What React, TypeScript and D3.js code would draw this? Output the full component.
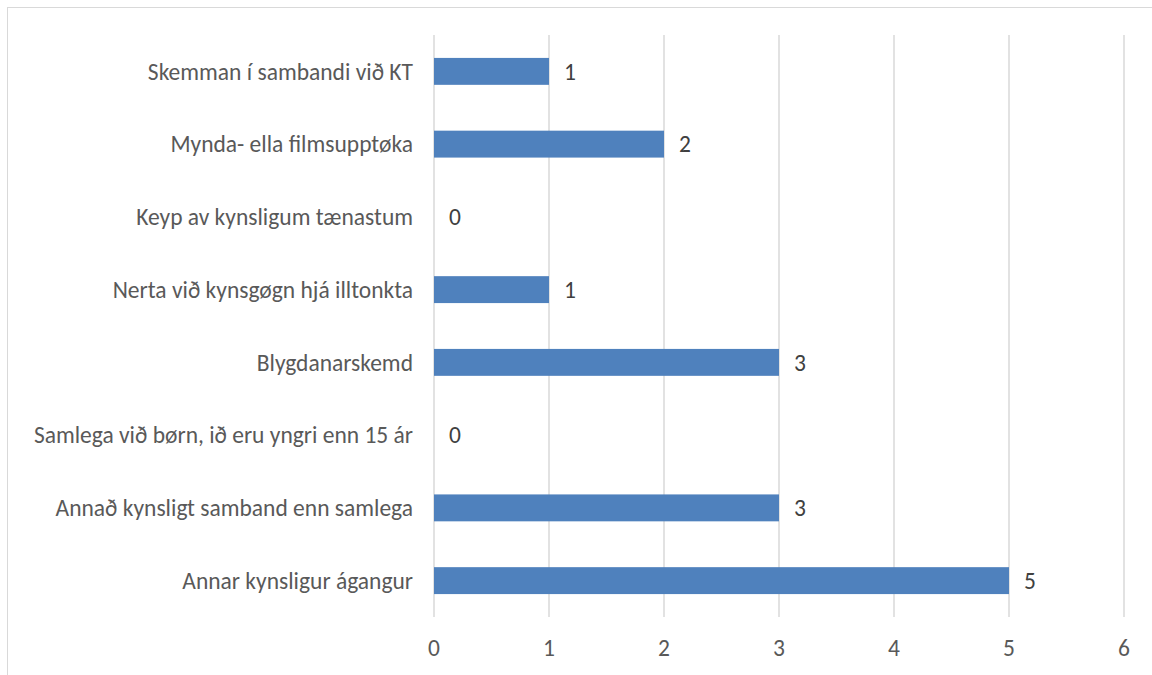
import React from "react";
import * as d3 from "d3";

const width = 1152;
const height = 675;

const categories = [
  "Skemman í sambandi við KT",
  "Mynda- ella filmsupptøka",
  "Keyp av kynsligum tænastum",
  "Nerta við kynsgøgn hjá illtonkta",
  "Blygdanarskemd",
  "Samlega við børn, ið eru yngri enn 15 ár",
  "Annað kynsligt samband enn samlega",
  "Annar kynsligur ágangur",
];
const values = [1, 2, 0, 1, 3, 0, 3, 5];
const ticks = [0, 1, 2, 3, 4, 5, 6];

const margin = { top: 35, left: 434, right: 28, bottom: 58 };
const font = "Carlito, Calibri, 'Open Sans', 'Noto Sans', sans-serif";
const fontSize = 23.5;

export default function App() {
  const x = d3
    .scaleLinear()
    .domain([0, 6])
    .range([margin.left, width - margin.right]);

  const y = d3
    .scaleBand()
    .domain(categories)
    .range([margin.top, height - margin.bottom])
    .paddingInner(0.63)
    .paddingOuter(0.315);

  const gridBottom = height - margin.bottom;

  return (
    <svg
      width={width}
      height={height}
      style={{ position: "fixed", top: 0, left: 0, background: "#fff" }}
    >
      <rect x={7.5} y={7.5} width={width + 20} height={height + 20} fill="#fff" stroke="#d9d9d9" />
      <g>
        {ticks.map((t) => (
          <line
            key={t}
            x1={x(t)}
            x2={x(t)}
            y1={margin.top}
            y2={gridBottom}
            stroke="#d9d9d9"
            strokeWidth={1.5}
          />
        ))}
      </g>
      <g>
        {categories.map((c, i) => (
          <g key={c}>
            {values[i] > 0 && (
              <rect
                x={x(0)}
                y={y(c)}
                width={x(values[i]) - x(0)}
                height={y.bandwidth()}
                fill="#4f81bd"
              />
            )}
            <text
              x={x(values[i]) + 15}
              y={y(c)! + y.bandwidth() / 2}
              dy="0.35em"
              fontFamily={font}
              fontSize={fontSize}
              fill="#404040"
            >
              {values[i]}
            </text>
            <text
              x={margin.left - 21}
              y={y(c)! + y.bandwidth() / 2}
              dy="0.35em"
              textAnchor="end"
              fontFamily={font}
              fontSize={fontSize}
              fill="#595959"
            >
              {c}
            </text>
          </g>
        ))}
      </g>
      <g>
        {ticks.map((t) => (
          <text
            key={t}
            x={x(t)}
            y={648}
            dy="0.35em"
            textAnchor="middle"
            fontFamily={font}
            fontSize={fontSize}
            fill="#595959"
          >
            {t}
          </text>
        ))}
      </g>
    </svg>
  );
}
